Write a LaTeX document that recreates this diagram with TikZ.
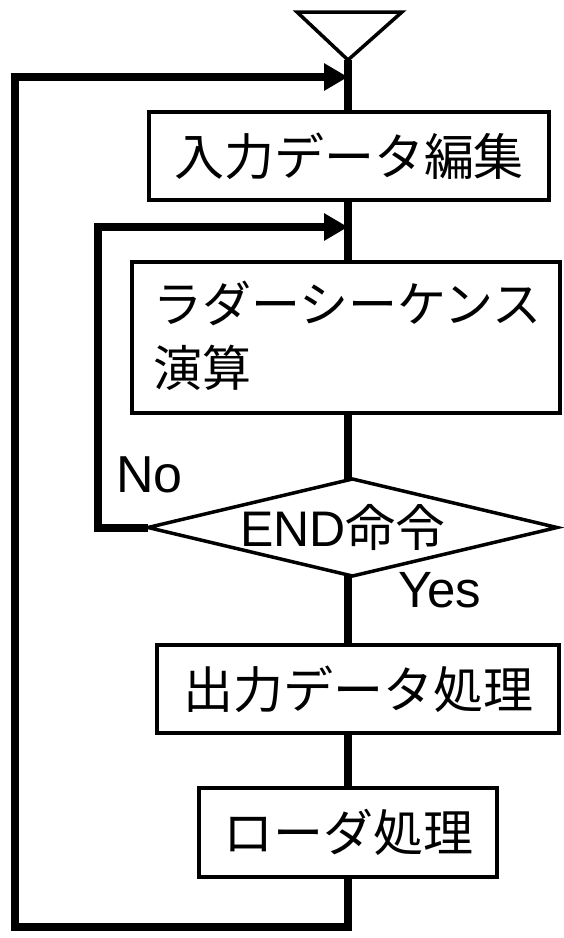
\documentclass[tikz,border=0pt]{standalone}
\usepackage{fontspec}
\newfontfamily\jpfont{Noto Sans CJK JP}
\newfontfamily\latfont{Liberation Sans}
\usetikzlibrary{arrows.meta,shapes.geometric}
\begin{document}
\begin{tikzpicture}[x=1pt,y=-1pt,
  procbox/.style={draw,line width=4.5pt,fill=white,rectangle,inner sep=0pt,outer sep=0pt,
    font=\jpfont\fontsize{50pt}{60pt}\selectfont},
  decbox/.style={draw,diamond,line width=3.5pt,fill=white,inner sep=0pt,outer sep=0pt},
  flow/.style={line width=8pt},
  loopline/.style={line width=8pt,line join=miter},
  arr/.style={-{Triangle[length=24pt,width=26pt]}},
  txt/.style={inner sep=0pt,outer sep=0pt}]
\useasboundingbox (0,0) rectangle (563,938);

% start terminal
\coordinate (tri) at (348,60);
\draw[line width=3.5pt,line join=miter] (297,12) -- (402,12) -- (tri) -- cycle;

% process boxes
\node[procbox,minimum width=400pt,minimum height=88pt] (b1) at (349,156) {入力データ編集};
\node[procbox,minimum width=428pt,minimum height=151pt] (b2) at (346,337.5) {};
\node[txt,anchor=west,font=\jpfont\fontsize{49pt}{60pt}\selectfont] (b2a) at (153,303) {ラダーシーケンス};
\node[txt,anchor=west,font=\jpfont\fontsize{49pt}{60pt}\selectfont] (b2b) at (153,368) {演算};
\node[decbox,minimum width=409pt,minimum height=97pt] (dia) at (352.5,527.5) {};
\node[procbox,minimum width=402pt,minimum height=88pt] (b3) at (358,689) {出力データ処理};
\node[procbox,minimum width=298pt,minimum height=89pt] (b4) at (348,832.5) {ローダ処理};

% junctions and corners
\coordinate (j1) at (348,77);
\coordinate (j2) at (348,227);
\coordinate (bend) at (348,927);
\coordinate (ol1) at (15,927);
\coordinate (ol2) at (15,77);
\coordinate (il1) at (98,527.5);
\coordinate (il2) at (98,227);

% main flow
\draw[flow] (tri) -- (b1.north -| tri);
\draw[flow] (b1.south -| tri) -- (b2.north -| tri);
\draw[flow] (b2.south -| tri) -- (dia.north -| tri);
\draw[flow] (dia.south -| tri) -- (b3.north -| tri);
\draw[flow] (b3.south -| tri) -- (b4.north -| tri);
\draw[loopline,arr] (b4.south -| tri) -- (bend) -- (ol1) -- (ol2) -- (j1);
\draw[loopline,arr] (dia.west) -- (il1) -- (il2) -- (j2);

% labels
\node[txt,anchor=base west,font=\latfont\fontsize{52pt}{60pt}\selectfont] (no) at (116,492) {No};
\node[txt,anchor=base west,font=\latfont\fontsize{51pt}{60pt}\selectfont] (yes) at (398,607) {Yes};
\node[txt,anchor=base west] (endt) at (240,546)
  {{\latfont\fontsize{50pt}{50pt}\selectfont END}{\jpfont\fontsize{50pt}{50pt}\selectfont 命令}};
\end{tikzpicture}
\end{document}
